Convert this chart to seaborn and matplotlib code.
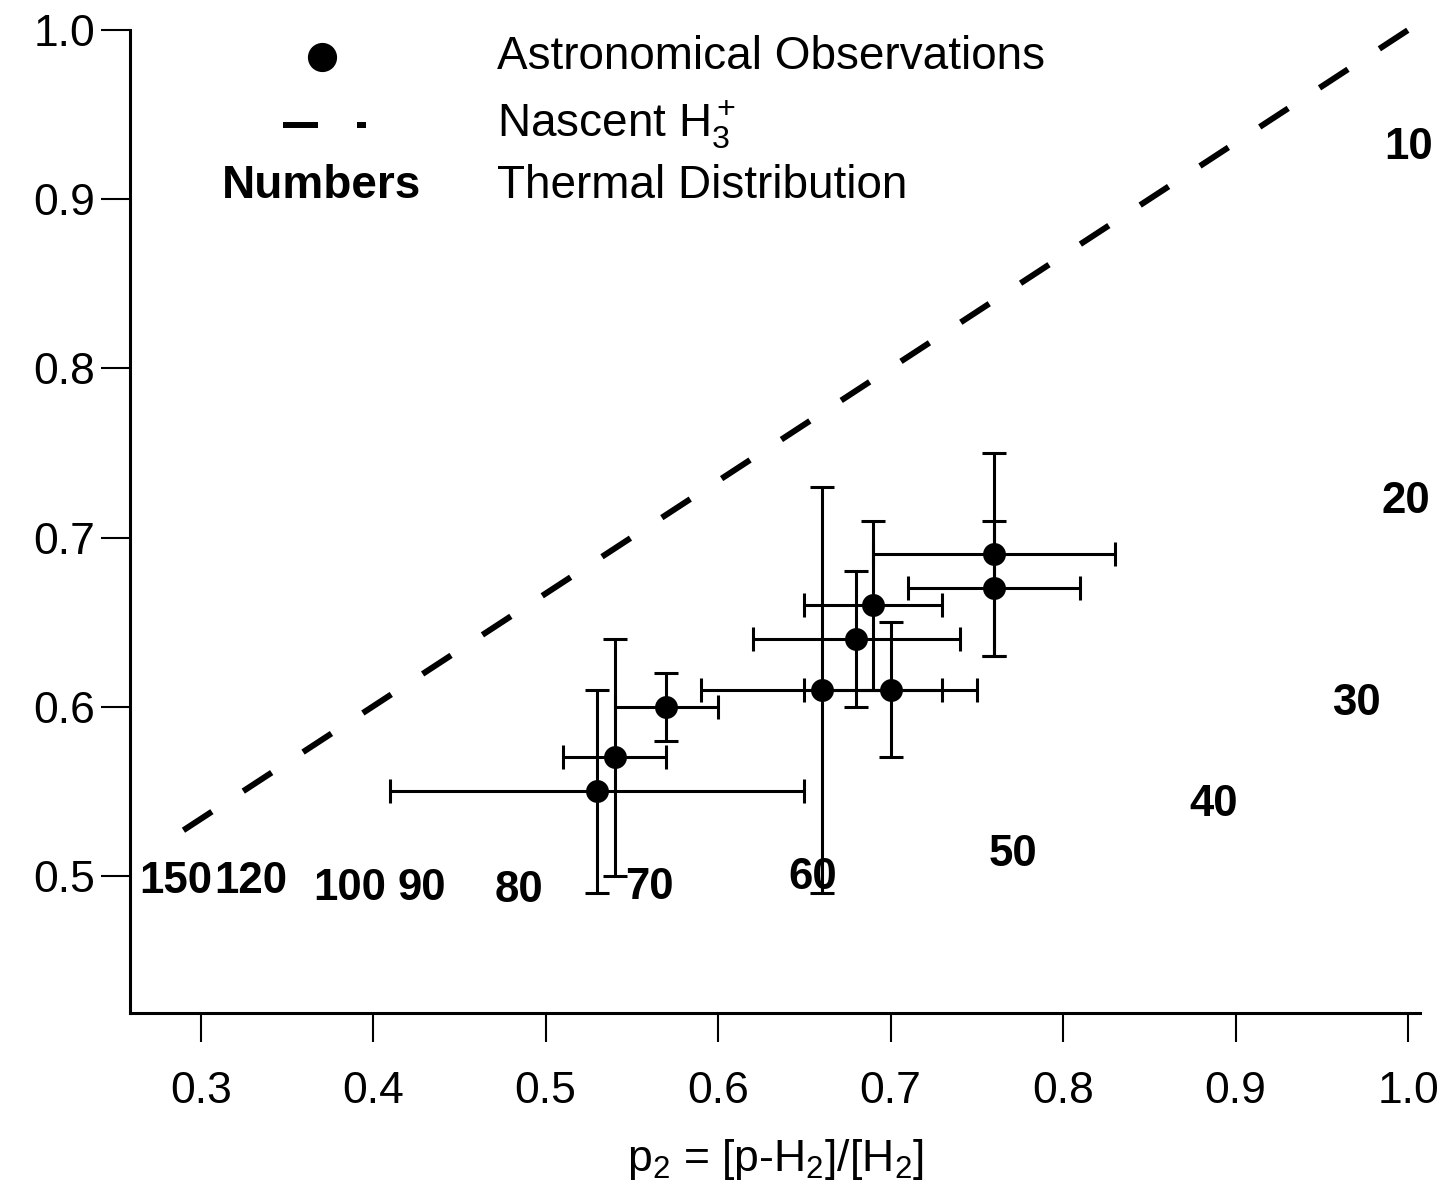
import matplotlib
matplotlib.use("Agg")
import matplotlib.pyplot as plt
from matplotlib.lines import Line2D
import seaborn as sns
import pandas as pd

# ---- data ----
obs_x = [0.53, 0.54, 0.57, 0.66, 0.68, 0.69, 0.70, 0.76, 0.76]
obs_y = [0.55, 0.57, 0.60, 0.61, 0.64, 0.66, 0.61, 0.69, 0.67]
obs_xlo = [0.41, 0.51, 0.54, 0.59, 0.62, 0.65, 0.65, 0.69, 0.71]
obs_xhi = [0.65, 0.57, 0.60, 0.73, 0.74, 0.73, 0.75, 0.83, 0.81]
obs_ylo = [0.49, 0.50, 0.58, 0.49, 0.60, 0.61, 0.57, 0.63, 0.63]
obs_yhi = [0.61, 0.64, 0.62, 0.73, 0.68, 0.71, 0.65, 0.75, 0.71]

nascent_x = [0.29, 1.0]
nascent_y = [0.527, 1.0]

thermal_labels = ["150", "120", "100", "90", "80", "70", "60", "50", "40", "30", "20", "10"]
thermal_x = [0.2855, 0.3293, 0.3861, 0.4282, 0.4845, 0.5599, 0.6550, 0.7707, 0.8870, 0.9699, 0.9984, 1.0001]
thermal_y = [0.4965, 0.4965, 0.4923, 0.4923, 0.4911, 0.4929, 0.4988, 0.5124, 0.5420, 0.6017, 0.7216, 0.9303]

x_ticks = [0.3, 0.4, 0.5, 0.6, 0.7, 0.8, 0.9, 1.0]
y_ticks = [0.5, 0.6, 0.7, 0.8, 0.9, 1.0]

# ---- style ----
sns.set_style("ticks")
plt.rcParams['font.family'] = ['Liberation Sans', 'DejaVu Sans']
plt.rcParams['mathtext.fontset'] = 'custom'
plt.rcParams['mathtext.rm'] = 'Liberation Sans'
plt.rcParams['mathtext.it'] = 'Liberation Sans'
for k in ['text.color', 'axes.labelcolor', 'xtick.color', 'ytick.color', 'axes.edgecolor']:
    plt.rcParams[k] = 'black'

fig = plt.figure(figsize=(14.49, 11.91), dpi=100)
ax = fig.add_axes([0.0897, 0.1495, 0.8904, 0.8253])

obs = pd.DataFrame({"x": obs_x, "y": obs_y})
line = pd.DataFrame({"x": nascent_x, "y": nascent_y})

sns.lineplot(data=line, x="x", y="y", ax=ax, color="black", linewidth=4.3)
ln = ax.lines[-1]
ln.set_dashes((5.69, 6.27))
ln.set_dash_capstyle("butt")
ln.set_clip_on(False)

xerr = [[a - b for a, b in zip(obs_x, obs_xlo)], [b - a for a, b in zip(obs_x, obs_xhi)]]
yerr = [[a - b for a, b in zip(obs_y, obs_ylo)], [b - a for a, b in zip(obs_y, obs_yhi)]]
ax.errorbar(obs_x, obs_y, xerr=xerr, yerr=yerr, fmt="none", ecolor="black",
            elinewidth=2.2, capsize=8.5, capthick=2.2, zorder=2)
sns.scatterplot(data=obs, x="x", y="y", ax=ax, color="black", edgecolor="black",
                s=272, zorder=3, linewidth=0)

for lab, tx, ty in zip(thermal_labels, thermal_x, thermal_y):
    ax.text(tx, ty, lab, ha="center", va="center", fontsize=31.5, fontweight="bold",
            color="black", clip_on=False)

ax.set_xlim(0.259, 1.007)
ax.set_ylim(0.419, 1.0)
ax.set_xticks(x_ticks)
ax.set_yticks(y_ticks)
ax.set_xticklabels([f"{v:.1f}" for v in x_ticks])
ax.set_yticklabels([f"{v:.1f}" for v in y_ticks])
ax.tick_params(axis="both", direction="out", length=21, width=1.5, labelsize=32,
               color="black", labelcolor="black")
ax.tick_params(axis="x", pad=21)
ax.tick_params(axis="y", pad=4)
for s in ["top", "right"]:
    ax.spines[s].set_visible(False)
for s in ["left", "bottom"]:
    ax.spines[s].set_linewidth(2.2)
    ax.spines[s].set_color("black")

ax.set_xlabel(r"p$_2$ = [p-H$_2$]/[H$_2$]", fontsize=32, labelpad=18, color="black")
ax.set_ylabel("")

# ---- legend (manual) ----
ax.plot([0.1488], [0.9725], "o", transform=ax.transAxes, ms=20, color="black", clip_on=False)
ax.add_line(Line2D([0.1186, 0.1457], [0.9034, 0.9034], transform=ax.transAxes,
                   color="black", linewidth=4.3, solid_capstyle="butt"))
ax.add_line(Line2D([0.1760, 0.1829], [0.9034, 0.9034], transform=ax.transAxes,
                   color="black", linewidth=4.3, solid_capstyle="butt"))
ax.text(0.1481, 0.8413, "Numbers", transform=ax.transAxes, ha="center", va="center",
        fontsize=33, fontweight="bold", color="black")
ax.text(0.2845, 0.9725, "Astronomical Observations", transform=ax.transAxes,
        ha="left", va="center", fontsize=33, color="black")
ax.text(0.2845, 0.9034, r"Nascent H$_3^+$", transform=ax.transAxes,
        ha="left", va="center", fontsize=33, color="black")
ax.text(0.2845, 0.8413, "Thermal Distribution", transform=ax.transAxes,
        ha="left", va="center", fontsize=33, color="black")

fig.savefig("out.png", dpi=100)
